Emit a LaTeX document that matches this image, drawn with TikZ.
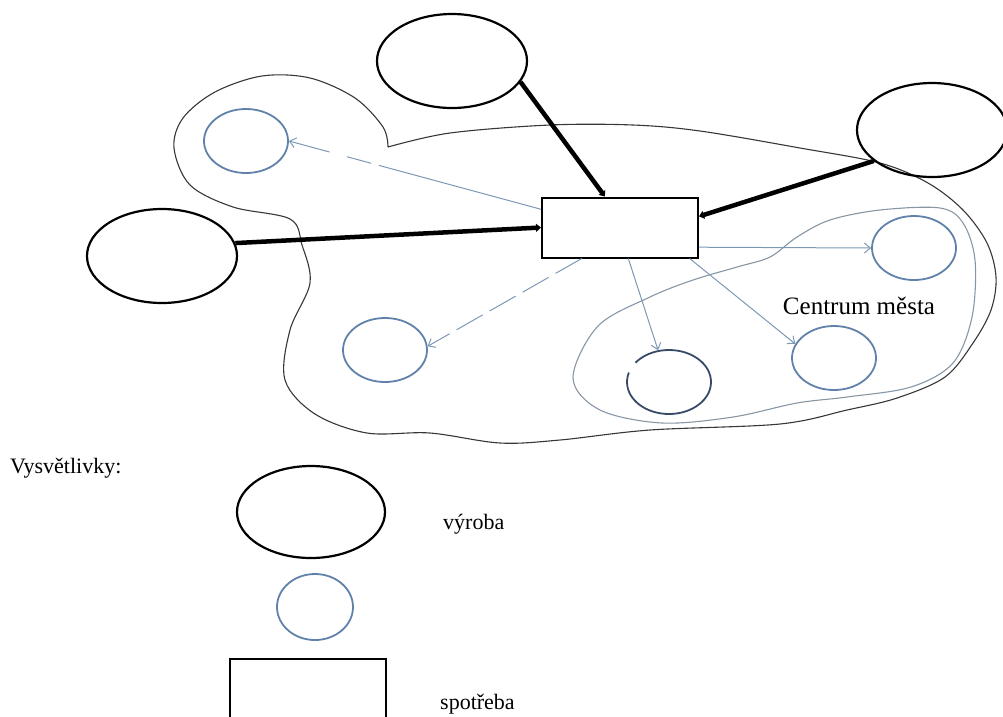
\documentclass[tikz,border=0pt]{standalone}
\usepackage{fontspec}
\setmainfont{Liberation Serif}
\usetikzlibrary{arrows.meta,shapes.geometric}
\definecolor{cblue}{RGB}{96,130,170}
\definecolor{ablue}{RGB}{125,152,182}
\definecolor{cdark}{RGB}{55,75,105}
\definecolor{lgray}{RGB}{55,55,55}
\definecolor{igray}{RGB}{135,150,165}
\begin{document}
\begin{tikzpicture}[x=1pt,y=-1pt,
  prod/.style={ellipse, draw=black, line width=2.2pt, minimum width=150pt, minimum height=94pt, inner sep=0pt},
  cons/.style={ellipse, draw=cblue, line width=1.8pt, minimum width=84pt, minimum height=64pt, inner sep=0pt},
  hub/.style={rectangle, draw=black, line width=2pt, minimum width=156pt, minimum height=60pt, inner sep=0pt},
  flow/.style={draw=ablue, line width=1pt, -{Straight Barb[length=6pt,width=10pt]}},
  link/.style={line width=4.5pt, -{Triangle[length=5pt,width=8pt]}},
  outline/.style={draw=lgray, line width=1.1pt},
  inner/.style={draw=igray, line width=1.1pt},
  lbl/.style={font=\fontsize{22}{26}\selectfont, inner sep=0pt},
  citylbl/.style={font=\fontsize{25}{29}\selectfont, inner sep=0pt}]
\useasboundingbox (0,0) rectangle (1003,716);

% city outline
\draw[outline] plot[smooth, tension=0.55] coordinates {
 (388,147) (383,127) (355,98) (310,78) (262,76) (215,92) (183,118) (174,148)
 (190,185) (233,207) (290,219) (302,245) (310,283) (290,330) (285,380)
 (315,414) (367,433) (430,433) (500,443) (560,440) (650,430) (780,424)
 (847,410) (897,398) (945,377) (973,343) (991,310) (996,277) (987,243)
 (963,210) (928,183) (880,163) (800,148) (700,131) (633,125) (550,125)
 (450,133) (388,147)};
% city centre outline
\draw[inner] plot[smooth cycle, tension=0.55] coordinates {
 (573,378) (598,326) (650,297) (693,280) (737,267) (770,257) (797,237)
 (830,220) (880,210) (940,208) (963,223) (975,260) (972,317) (953,363)
 (911,387) (847,397) (797,403) (733,417) (662,423) (600,410)};

% nodes
\node[prod] (ptop) at (452,61) {};
\node[prod] (pright) at (932,130) {};
\node[prod] (pleft) at (162,256) {};
\node[hub] (hub) at (620,227.5) {};
\node[cons] (cA) at (246,141) {};
\node[cons] (cB) at (385,350) {};
\node[cons, draw=cdark, dash pattern=on 95pt off 12pt on 127pt off 1pt] (cC) at (669,382) {};
\node[cons] (cD) at (834,358) {};
\node[cons] (cE) at (914,248) {};
\node[citylbl] (city) at (859,306) {Centrum města};

% production links
\draw[link] (ptop.-17) -- (hub.116);
\draw[link] (pleft.10) -- (hub.west);
\draw[link] (pright.208) -- (hub.8);

% consumption flows
\draw[flow, dash pattern=on 168pt off 8pt on 25pt off 18pt on 200pt off 0pt] (hub.167) -- (cA.east);
\draw[flow, dash pattern=on 30pt off 8pt] (hub.219) -- (cB.5);
\draw[flow] (hub.285) -- (cC.109);
\draw[flow] (hub.336) -- (cD.160);
\draw[flow] (hub.346) -- (cE.west);

% legend
\node[lbl, anchor=west] (legtitle) at (10,468) {Vysvětlivky:};
\node[prod, minimum width=148pt, minimum height=92pt] (lp) at (311,512) {};
\node[lbl, anchor=west] (lpt) at (443,524) {výroba};
\node[cons, minimum width=76pt, minimum height=66pt] (lc) at (315,607) {};
\node[hub, minimum width=156pt, minimum height=70pt, anchor=north] (lh) at (308,658) {};
\node[lbl, anchor=base west] (lht) at (440,709) {spotřeba};
\end{tikzpicture}
\end{document}
